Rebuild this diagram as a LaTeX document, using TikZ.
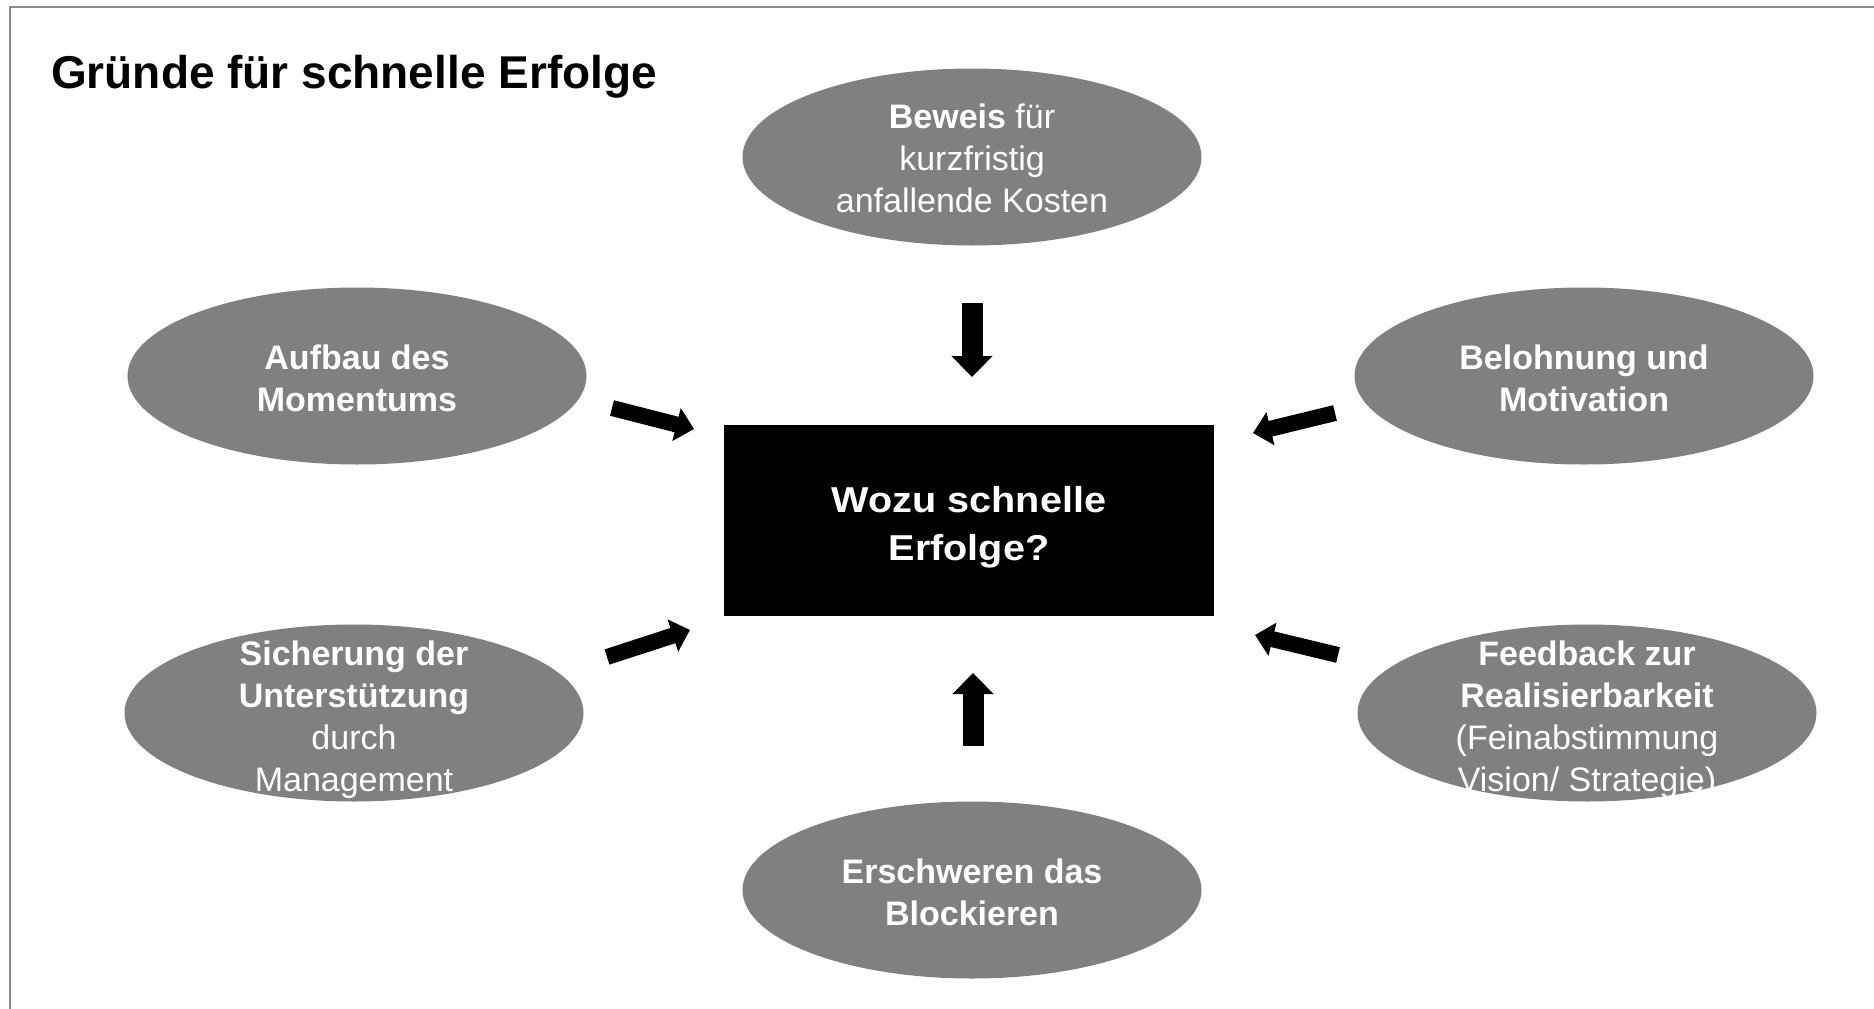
\documentclass[tikz,border=0pt]{standalone}
\usepackage{fontspec}
\setmainfont{Liberation Sans}
\newfontfamily\widesans[FakeStretch=1.1]{Liberation Sans}
\usetikzlibrary{shapes.geometric,arrows.meta}
\definecolor{ellgray}{HTML}{808080}
\definecolor{framegray}{HTML}{8A8A8A}
\begin{document}
\begin{tikzpicture}[x=1pt,y=-1pt,
  blob/.style={ellipse, fill=ellgray, minimum width=459pt, minimum height=177pt, inner sep=0pt},
  etext/.style={text=white, align=center, inner sep=0pt, font=\fontsize{34}{42}\selectfont},
  centerbox/.style={fill=black, minimum width=490pt, minimum height=191pt, inner sep=0pt},
  boxtext/.style={text=white, align=center, inner sep=0pt, font=\widesans\bfseries\fontsize{36}{48}\selectfont},
  diagarrow/.style={line width=16pt, -{Triangle[width=33pt,length=18pt]}},
  vertarrow/.style={line width=21pt, -{Triangle[width=40pt,length=21pt]}},
  frameline/.style={draw=framegray, line width=2pt}]
\path[use as bounding box] (0,0) rectangle (1874,1009);
\draw[frameline] (10,1009) -- (10,7) -- (1874,7);

\node[anchor=base west, inner sep=0pt, font=\bfseries\fontsize{46}{54}\selectfont] (title) at (51,88) {Gründe für schnelle Erfolge};

% ellipses
\node[blob] (top) at (972,157) {};
\node[blob] (lu) at (357,376) {};
\node[blob] (ru) at (1584,376) {};
\node[blob] (ll) at (354,713) {};
\node[blob] (rl) at (1587,713) {};
\node[blob] (bot) at (972,890) {};

\node[etext] (toptext) at (972,158) {\textbf{Beweis} für\\kurzfristig\\anfallende Kosten};
\node[etext] (lutext) at (357,378) {\textbf{Aufbau des}\\\textbf{Momentums}};
\node[etext] (rutext) at (1584,378) {\textbf{Belohnung und}\\\textbf{Motivation}};
\node[etext] (lltext) at (354,720) {\textbf{Sicherung der}\\\textbf{Unterstützung}\\durch\\Management};
\node[etext] (rltext) at (1587,720) {\textbf{Feedback zur}\\\textbf{Realisierbarkeit}\\(Feinabstimmung\\Vision/ Strategie)};
\node[etext] (bottext) at (972,892) {\textbf{Erschweren das}\\\textbf{Blockieren}};

% center box
\node[centerbox] (box) at (969,520.5) {};
\node[boxtext] (boxtext) at (969,527) {Wozu schnelle\\Erfolge?};

% arrows
\coordinate (a1s) at (972,303); \coordinate (a1e) at (972,377);
\coordinate (a2s) at (973,746); \coordinate (a2e) at (973,673);
\coordinate (a3s) at (612,408); \coordinate (a3e) at (694,429);
\coordinate (a4s) at (1335,413); \coordinate (a4e) at (1253,433);
\coordinate (a5s) at (607,657); \coordinate (a5e) at (690,630);
\coordinate (a6s) at (1338,655); \coordinate (a6e) at (1255,635);
\draw[vertarrow] (a1s) -- (a1e);
\draw[vertarrow] (a2s) -- (a2e);
\draw[diagarrow] (a3s) -- (a3e);
\draw[diagarrow] (a4s) -- (a4e);
\draw[diagarrow] (a5s) -- (a5e);
\draw[diagarrow] (a6s) -- (a6e);
\end{tikzpicture}
\end{document}
